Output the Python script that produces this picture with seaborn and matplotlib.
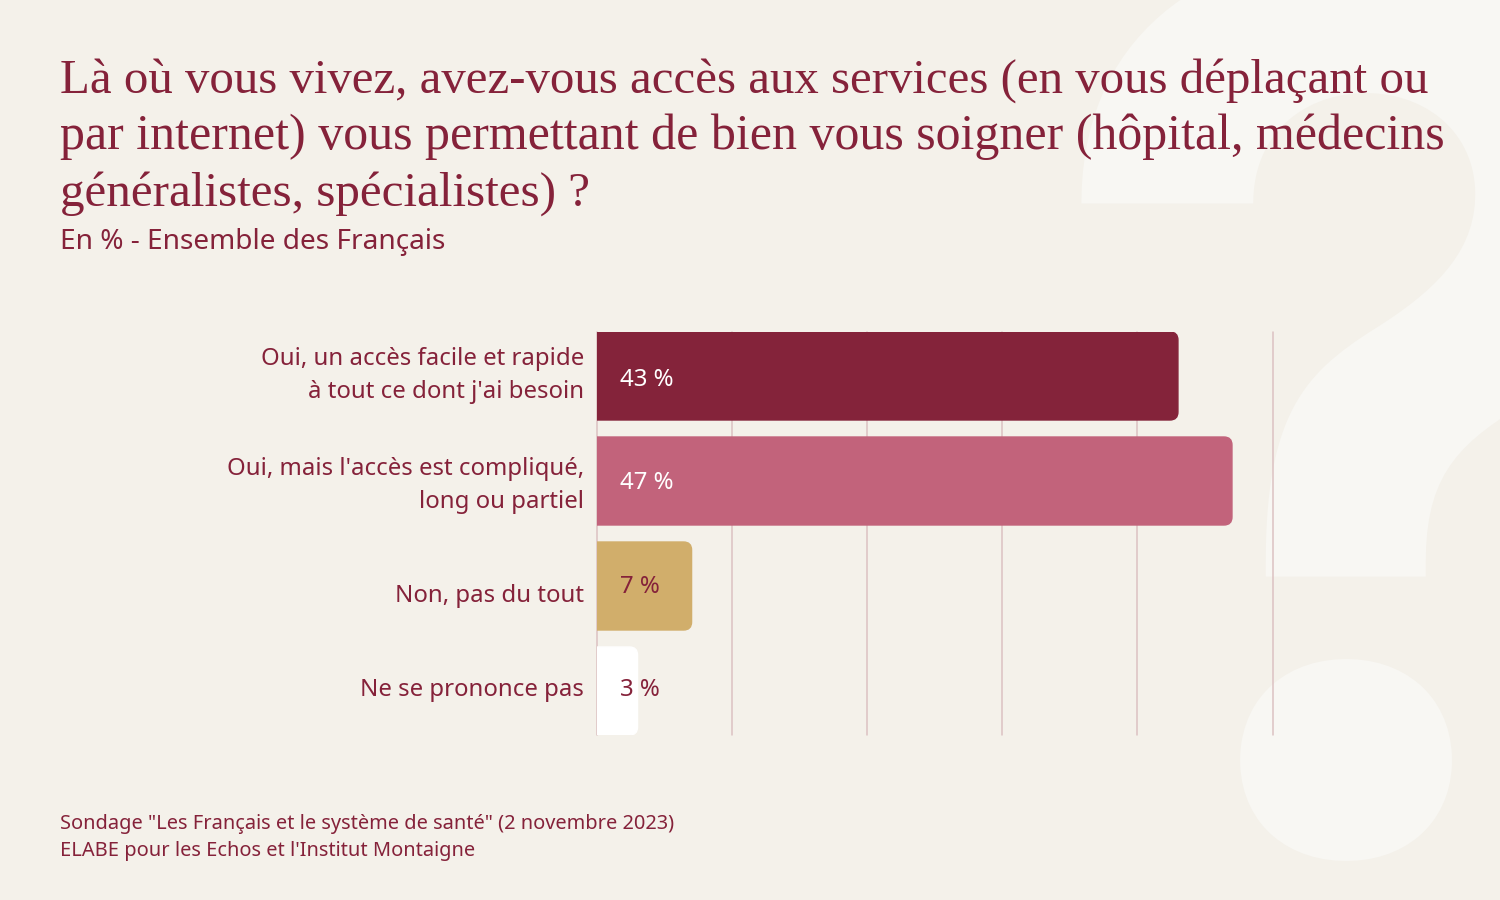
import matplotlib
matplotlib.use('Agg')
import matplotlib.pyplot as plt
import seaborn as sns
import pandas as pd
from matplotlib.patches import PathPatch
from matplotlib.path import Path

# donnees du sondage
reponses = ["Oui, un accès facile et rapide\nà tout ce dont j'ai besoin",
            "Oui, mais l'accès est compliqué,\nlong ou partiel",
            "Non, pas du tout",
            "Ne se prononce pas"]
valeurs = [43, 47, 7, 3]
couleurs = ['#84233a', '#c2637b', '#d1ae6b', '#ffffff']
couleurs_texte = ['#ffffff', '#ffffff', '#85223a', '#85223a']
titre = ["Là où vous vivez, avez-vous accès aux services (en vous déplaçant ou",
         "par internet) vous permettant de bien vous soigner (hôpital, médecins",
         "généralistes, spécialistes) ?"]
sous_titre = "En % - Ensemble des Français"
source = ['Sondage "Les Français et le système de santé" (2 novembre 2023)',
          "ELABE pour les Echos et l'Institut Montaigne"]
graduations = [0, 10, 20, 30, 40, 50]

FOND = '#f4f1ea'
ROUGE = '#85223a'
W, H = 1500, 900
X0, X1, Y0, Y1 = 597, 1272.5, 332, 735

sns.set_theme(style='white')
plt.rcParams['font.family'] = ['Noto Sans', 'DejaVu Sans']

df = pd.DataFrame({'reponse': reponses, 'pct': valeurs})

fig = plt.figure(figsize=(15, 9), dpi=100, facecolor=FOND)
ax = fig.add_axes([X0 / W, 1 - Y1 / H, (X1 - X0) / W, (Y1 - Y0) / H])
ax.patch.set_alpha(0)

# le grand point d'interrogation en fond
fig.text(1375 / W, 1 - 850 / H, '?', family='Inter', fontsize=880, fontweight=700, color='#f8f7f3',
         ha='center', va='baseline', zorder=-1)

sns.barplot(data=df, y='reponse', x='pct', hue='reponse', palette=couleurs, orient='h',
            width=0.838, saturation=1, legend=False, ax=ax, zorder=3)

ax.set_xlim(0, 50)
ax.set_ylim(3.419, -0.419)
ax.set_xticks(graduations)
ax.set_yticks([])
ax.set_xticklabels([])
ax.set_xlabel('')
ax.set_ylabel('')
ax.tick_params(length=0)
sns.despine(ax=ax, left=True, bottom=True)
ax.grid(axis='x', color='#dcc2c2', lw=1.1, zorder=0)
ax.grid(axis='y', visible=False)
ax.set_axisbelow(True)
for ligne in ax.get_xgridlines():
    ligne.set_clip_on(False)

# coins arrondis a droite seulement
rx = 8 * 50 / (X1 - X0)
ry = 8 * 3.838 / (Y1 - Y0)
for bar in list(ax.patches):
    x0, y0 = bar.get_x(), bar.get_y()
    x1, y1 = x0 + bar.get_width(), y0 + bar.get_height()
    verts = [(x0, y0), (x1 - rx, y0), (x1, y0), (x1, y0 + ry), (x1, y1 - ry), (x1, y1),
             (x1 - rx, y1), (x0, y1), (x0, y0)]
    codes = [Path.MOVETO, Path.LINETO, Path.CURVE3, Path.CURVE3, Path.LINETO, Path.CURVE3,
             Path.CURVE3, Path.LINETO, Path.CLOSEPOLY]
    ax.add_patch(PathPatch(Path(verts, codes), facecolor=bar.get_facecolor(),
                           edgecolor=bar.get_facecolor(), lw=1.0, zorder=3))
    bar.remove()

# decalages en pixels des textes par rapport au centre des barres
decal_val = [-4, -2, -1, 1]
decal_cat = [0, -4.5, -10, 1]
for i, (rep, val) in enumerate(zip(reponses, valeurs)):
    ax.annotate(f'{val} %', xy=(0, i), xycoords='data', xytext=(23.5 * 0.72, decal_val[i] * 0.72),
                textcoords='offset points', ha='left', va='center', fontsize=17.25,
                color=couleurs_texte[i], zorder=5)
    ax.annotate(rep, xy=(0, i), xycoords='data', xytext=(-13 * 0.72, decal_cat[i] * 0.72),
                textcoords='offset points', ha='right', va='center', ma='right', fontsize=17.25,
                color=ROUGE, linespacing=1.5, annotation_clip=False)

# titre ligne par ligne
for ligne, y, taille in zip(titre, [92.5, 149, 206], [35.2, 36, 35.4]):
    fig.text(60 / W, 1 - y / H, ligne, family=['Liberation Serif'], fontsize=taille, color=ROUGE, va='baseline')
fig.text(60 / W, 1 - 249 / H, sous_titre, fontsize=20.2, color=ROUGE, va='baseline')
for ligne, y in zip(source, [829, 856]):
    fig.text(60 / W, 1 - y / H, ligne, fontsize=14.4, color=ROUGE, va='baseline')

fig.savefig('out.png', dpi=100, facecolor=FOND)
